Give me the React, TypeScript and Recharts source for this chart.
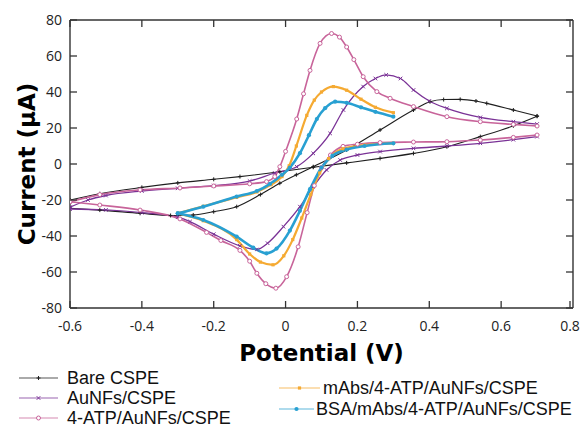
import React from 'react'
import { LineChart, Line, XAxis, YAxis, ReferenceLine } from 'recharts'

type Pt = [number, number]

const potentialTicks = [-0.6, -0.4, -0.2, 0, 0.2, 0.4, 0.6, 0.8]
const currentTicks = [-80, -60, -40, -20, 0, 20, 40, 60, 80]

// Bare CSPE
const bareForward: Pt[] = [
  [-0.6, -24.6], [-0.517, -25.6], [-0.405, -27.4], [-0.32, -28.6], [-0.257, -28.3],
  [-0.2, -26.5], [-0.136, -23.7], [-0.07, -17], [-0.016, -10.7], [0.03, -6],
  [0.077, -1.5], [0.17, 7.8], [0.263, 18.9], [0.356, 30], [0.402, 34.6],
  [0.44, 35.8], [0.486, 35.9], [0.53, 35], [0.56, 33.7], [0.634, 30], [0.7, 26.7],
]
const bareReverse: Pt[] = [
  [-0.6, -20], [-0.517, -16.5], [-0.4, -13], [-0.3, -10.5], [-0.2, -8.5],
  [-0.127, -7], [-0.016, -4.3], [0.077, -1.8], [0.17, 0.6], [0.263, 3.1],
  [0.356, 5.9], [0.449, 9.6], [0.542, 15.2], [0.634, 21.2], [0.7, 26.5],
]

// AuNFs/CSPE
const aunfForward: Pt[] = [
  [-0.6, -24], [-0.55, -20], [-0.5, -17.5], [-0.4, -15], [-0.3, -13.5],
  [-0.2, -12], [-0.1, -9.5], [-0.03, -5], [0.031, -1.5], [0.077, 5.9],
  [0.124, 17], [0.161, 30], [0.216, 43], [0.25, 47.5], [0.28, 49.5],
  [0.32, 47.5], [0.356, 41.1], [0.4, 35], [0.449, 30.9], [0.542, 25.9],
  [0.634, 23.5], [0.7, 22.2],
]
const aunfReverse: Pt[] = [
  [-0.6, -25], [-0.5, -25.5], [-0.4, -27], [-0.3, -29.5], [-0.266, -32],
  [-0.2, -39], [-0.127, -45.5], [-0.08, -47.5], [-0.05, -44], [-0.006, -34.8],
  [0.04, -23.7], [0.077, -12.6], [0.114, -3.3], [0.152, 2.2], [0.2, 5],
  [0.263, 6.9], [0.356, 8.7], [0.449, 10], [0.542, 11.5], [0.634, 13.5], [0.7, 15.2],
]

// 4-ATP/AuNFs/CSPE
const atpForward: Pt[] = [
  [-0.6, -21], [-0.517, -17], [-0.405, -14.4], [-0.294, -13.3], [-0.2, -12.2],
  [-0.1, -11], [-0.053, -9.8], [-0.03, -7], [-0.016, -1.5], [0, 7],
  [0.031, 25], [0.05, 39], [0.068, 52], [0.096, 67], [0.128, 72.5],
  [0.15, 70.5], [0.17, 65], [0.19, 58], [0.216, 48.5], [0.254, 40.2],
  [0.291, 36.5], [0.356, 31.9], [0.449, 26.3], [0.542, 23.5], [0.634, 22], [0.7, 21.1],
]
const atpReverse: Pt[] = [
  [-0.6, -21], [-0.517, -22.8], [-0.405, -25.6], [-0.294, -30.5], [-0.22, -38],
  [-0.18, -42.5], [-0.127, -48], [-0.1, -54], [-0.08, -60.7], [-0.055, -66.5],
  [-0.027, -69], [0.003, -62.6], [0.035, -46], [0.06, -27], [0.08, -12],
  [0.1, -2], [0.125, 5], [0.16, 9.8], [0.2, 11], [0.263, 11.9],
  [0.356, 12.2], [0.449, 12.4], [0.542, 13.3], [0.634, 14.8], [0.7, 16.1],
]

// mAbs/4-ATP/AuNFs/CSPE
const mabForward: Pt[] = [
  [-0.3, -27.4], [-0.229, -23.5], [-0.136, -18.5], [-0.08, -15.5], [-0.04, -11.5],
  [-0.01, -7], [0.01, -1], [0.03, 10], [0.059, 27], [0.08, 35.5],
  [0.1, 40], [0.133, 43], [0.17, 41], [0.21, 36], [0.25, 31.5], [0.3, 28.5],
]
const mabReverse: Pt[] = [
  [-0.3, -27.4], [-0.229, -31.5], [-0.136, -42], [-0.1, -50], [-0.07, -54.5],
  [-0.035, -56], [-0.005, -51], [0.02, -42], [0.045, -30], [0.07, -17],
  [0.095, -5], [0.12, 3], [0.16, 8.5], [0.22, 10.5], [0.3, 11.5],
]

// BSA/mAbs/4-ATP/AuNFs/CSPE
const bsaForward: Pt[] = [
  [-0.3, -27.4], [-0.229, -23.7], [-0.136, -18.1], [-0.08, -15], [-0.043, -11],
  [-0.01, -6], [0.012, -2], [0.04, 6], [0.065, 16], [0.087, 25],
  [0.11, 31], [0.138, 34.6], [0.17, 34], [0.21, 31.5], [0.25, 29], [0.3, 26.3],
]
const bsaReverse: Pt[] = [
  [-0.3, -27.4], [-0.229, -31.1], [-0.136, -40.4], [-0.09, -46.5], [-0.053, -49.6],
  [-0.025, -47], [0.012, -37], [0.04, -26], [0.068, -14], [0.1, -2],
  [0.13, 4.5], [0.17, 8], [0.22, 10], [0.3, 11.5],
]

type Marker = 'plus' | 'cross' | 'ring' | 'square' | 'disc'

const series = [
  { name: 'Bare CSPE', color: '#1f1f1f', width: 1.1, marker: 'plus' as Marker, fwd: bareForward, rev: bareReverse },
  { name: 'AuNFs/CSPE', color: '#7a3296', width: 1.3, marker: 'cross' as Marker, fwd: aunfForward, rev: aunfReverse },
  { name: '4-ATP/AuNFs/CSPE', color: '#c8649a', width: 1.6, marker: 'ring' as Marker, fwd: atpForward, rev: atpReverse },
  { name: 'mAbs/4-ATP/AuNFs/CSPE', color: '#f5aa32', width: 2.2, marker: 'square' as Marker, fwd: mabForward, rev: mabReverse },
  { name: 'BSA/mAbs/4-ATP/AuNFs/CSPE', color: '#28a0d2', width: 2.6, marker: 'disc' as Marker, fwd: bsaForward, rev: bsaReverse },
]

const rows = (pts: Pt[]) => pts.map(([x, y]) => ({ x, y }))

const drawMarker = (kind: Marker, color: string, cx: number, cy: number, key: any) => {
  switch (kind) {
    case 'plus':
      return <path key={key} d={`M${cx - 2},${cy}h4M${cx},${cy - 2}v4`} stroke={color} strokeWidth={1} />
    case 'cross':
      return <path key={key} d={`M${cx - 1.8},${cy - 1.8}l3.6,3.6M${cx - 1.8},${cy + 1.8}l3.6,-3.6`} stroke={color} strokeWidth={1} />
    case 'ring':
      return <circle key={key} cx={cx} cy={cy} r={2} fill="#fff" stroke={color} strokeWidth={1} />
    case 'square':
      return <rect key={key} x={cx - 1.6} y={cy - 1.6} width={3.2} height={3.2} fill={color} />
    default:
      return <circle key={key} cx={cx} cy={cy} r={2.1} fill={color} />
  }
}

const dotFor = (kind: Marker, color: string) => (p: any) =>
  p.cx == null ? <g key={p.index} /> : drawMarker(kind, color, p.cx, p.cy, p.index)

// plot frame inside the svg
const PLOT = { left: 62, right: 565, top: 12, bottom: 300 }
const TICK = 7
const frameColor = '#333'
const tickText = { fontFamily: 'Open Sans', fontSize: 14, fill: '#222' }
const titleStyle = { fontFamily: 'DejaVu Sans', fontWeight: 700, fontSize: 23, fill: '#000' }

const fmtV = (v: number) => (v === 0 ? '0' : v.toFixed(1))

const XTick = (p: any) => {
  const x = p.x
  return (
    <g>
      <line x1={x} x2={x} y1={PLOT.bottom} y2={PLOT.bottom - TICK} stroke={frameColor} strokeWidth={1.3} />
      <line x1={x} x2={x} y1={PLOT.top} y2={PLOT.top + TICK} stroke={frameColor} strokeWidth={1.3} />
      <text x={x} y={PLOT.bottom + 12} dy="0.75em" textAnchor="middle" {...tickText}>
        {fmtV(p.payload.value)}
      </text>
    </g>
  )
}

const YTick = (p: any) => {
  const y = p.y
  return (
    <g>
      <line x1={PLOT.left} x2={PLOT.left + TICK} y1={y} y2={y} stroke={frameColor} strokeWidth={1.3} />
      <line x1={PLOT.right} x2={PLOT.right - TICK} y1={y} y2={y} stroke={frameColor} strokeWidth={1.3} />
      <text x={PLOT.left - 8} y={y} dy="0.36em" textAnchor="end" {...tickText}>
        {p.payload.value}
      </text>
    </g>
  )
}

const legendLeft = [
  { idx: 0, y: 378 },
  { idx: 1, y: 398 },
  { idx: 2, y: 418 },
]
const legendRight = [
  { idx: 3, y: 388, lineEnd: 320, textX: 323 },
  { idx: 4, y: 409, lineEnd: 314, textX: 316 },
]

const LegendEntry = ({ idx, y, x1, x2, tx }: { idx: number; y: number; x1: number; x2: number; tx: number }) => {
  const s = series[idx]
  const mid = (x1 + x2) / 2
  return (
    <>
      <svg style={{ position: 'absolute', left: 0, top: 0, overflow: 'visible' }} width={1} height={1}>
        <line x1={x1 - 8} x2={x2 - 8} y1={y - 8} y2={y - 8} stroke={s.color} strokeWidth={1.2} opacity={0.75} />
        {drawMarker(s.marker, s.color, mid - 8, y - 8, 'm')}
      </svg>
      <div
        style={{
          position: 'absolute',
          left: tx - 8,
          top: y - 8 - 10,
          lineHeight: '20px',
          fontFamily: 'Liberation Sans',
          fontSize: 18,
          color: '#111',
          whiteSpace: 'nowrap',
        }}
      >
        {s.name}
      </div>
    </>
  )
}

export default function App() {
  return (
    <div style={{ position: 'relative', width: 580, height: 420 }}>
      <LineChart width={572} height={368} margin={{ top: 12, right: 7, bottom: 0, left: 0 }}>
        <XAxis
          dataKey="x"
          type="number"
          domain={[-0.6, 0.8]}
          ticks={potentialTicks}
          allowDataOverflow
          height={68}
          tickSize={0}
          tickLine={false}
          axisLine={{ stroke: frameColor, strokeWidth: 1.4 }}
          tick={<XTick />}
          label={{ value: 'Potential (V)', position: 'insideBottom', offset: 15, style: titleStyle }}
        />
        <YAxis
          type="number"
          domain={[-80, 80]}
          ticks={currentTicks}
          allowDataOverflow
          width={62}
          tickSize={0}
          tickLine={false}
          axisLine={{ stroke: frameColor, strokeWidth: 1.4 }}
          tick={<YTick />}
          label={{
            value: 'Current (µA)',
            angle: -90,
            position: 'insideLeft',
            offset: 19,
            style: { ...titleStyle, textAnchor: 'middle' },
          }}
        />
        <ReferenceLine x={0.8} stroke={frameColor} strokeWidth={1.4} />
        <ReferenceLine y={80} stroke={frameColor} strokeWidth={1.4} />
        {series.flatMap((s) =>
          [s.fwd, s.rev].map((branch, i) => (
            <Line
              key={`${s.name}-${i}`}
              data={rows(branch)}
              dataKey="y"
              type="monotone"
              stroke={s.color}
              strokeWidth={s.width}
              dot={dotFor(s.marker, s.color)}
              activeDot={false}
              legendType="none"
              isAnimationActive={false}
            />
          ))
        )}
      </LineChart>
      {legendLeft.map((e) => (
        <LegendEntry key={e.idx} idx={e.idx} y={e.y} x1={19} x2={58} tx={67} />
      ))}
      {legendRight.map((e) => (
        <LegendEntry key={e.idx} idx={e.idx} y={e.y} x1={279} x2={e.lineEnd} tx={e.textX} />
      ))}
    </div>
  )
}
